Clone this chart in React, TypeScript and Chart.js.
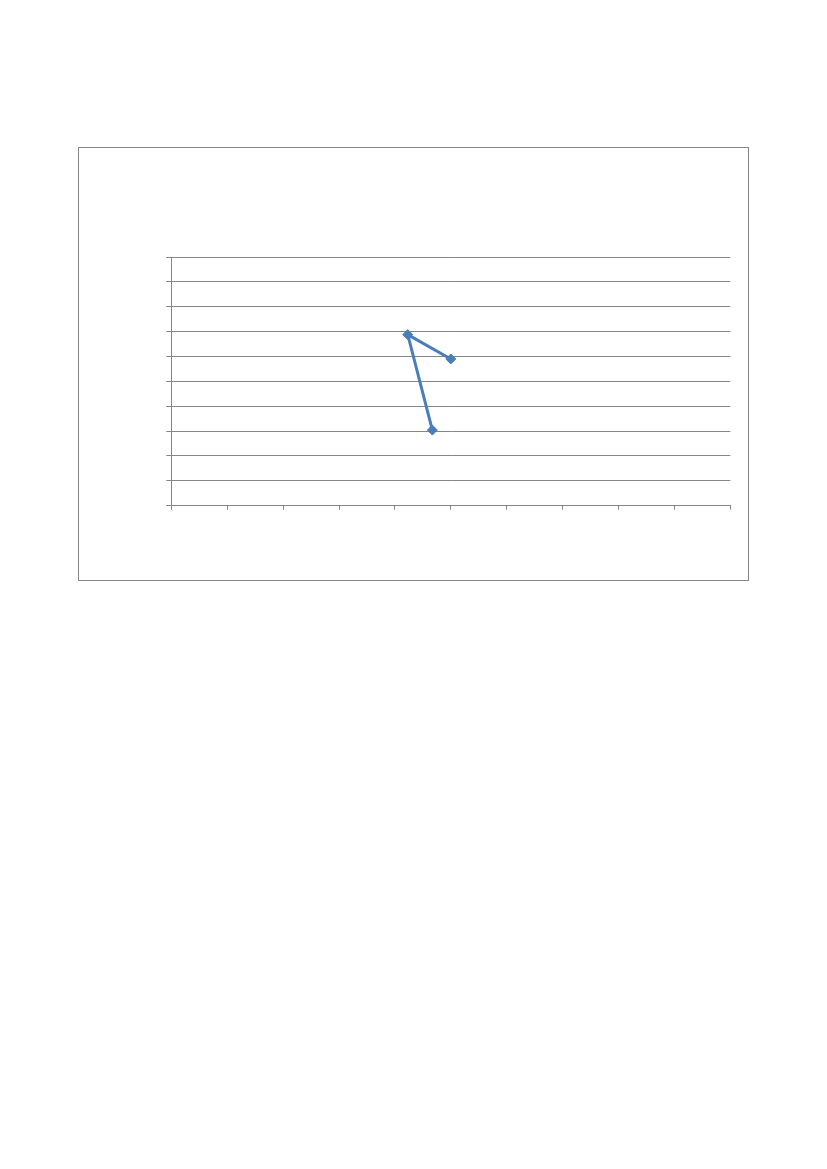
import React, { useEffect, useRef } from 'react';
import { Chart, registerables } from 'chart.js';

Chart.register(...registerables);

// series points (axis runs 0..10 on both sides, no labels shown)
const xValues = [5.0, 4.23, 4.67];
const yValues = [5.9, 6.88, 3.04];
const axisMin = 0;
const axisMax = 10;
const axisStep = 1;

const gray = '#868686';
const blue = '#4A7EBB';

export default function App() {
  const canvasRef = useRef<HTMLCanvasElement | null>(null);

  useEffect(() => {
    const canvas = canvasRef.current;
    if (!canvas) return;

    const chart = new Chart(canvas, {
      type: 'scatter',
      data: {
        datasets: [{
          data: xValues.map((x, i) => ({ x, y: yValues[i] })),
          showLine: true,
          borderColor: blue,
          backgroundColor: blue,
          borderWidth: 3,
          pointStyle: 'rectRot',
          pointRadius: 5,
          pointBorderWidth: 1,
          pointBackgroundColor: blue,
          pointBorderColor: blue,
        }]
      },
      options: {
        animation: false,
        responsive: true,
        maintainAspectRatio: false,
        layout: { padding: { left: 87.3, right: 17.7, top: 109, bottom: 70.3 } },
        plugins: {
          legend: { display: false },
          tooltip: { enabled: false },
        },
        scales: {
          x: {
            type: 'linear',
            min: axisMin,
            max: axisMax,
            ticks: { display: false, stepSize: axisStep },
            grid: { drawOnChartArea: false, drawTicks: true, tickLength: 4, color: gray },
            border: { display: true, color: gray, width: 1 },
          },
          y: {
            type: 'linear',
            min: axisMin,
            max: axisMax,
            ticks: { display: false, stepSize: axisStep },
            grid: { drawOnChartArea: true, drawTicks: true, tickLength: 5, color: gray },
            border: { display: true, color: gray, width: 1 },
          },
        },
      },
    });

    return () => chart.destroy();
  }, []);

  return (
    <div
      style={{
        position: 'absolute',
        left: 78,
        top: 147,
        width: 671,
        height: 434,
        border: `1px solid ${gray}`,
        boxSizing: 'border-box',
        background: '#fff',
      }}
    >
      <div style={{ position: 'relative', width: '100%', height: '100%' }}>
        <canvas ref={canvasRef}></canvas>
      </div>
    </div>
  );
}
